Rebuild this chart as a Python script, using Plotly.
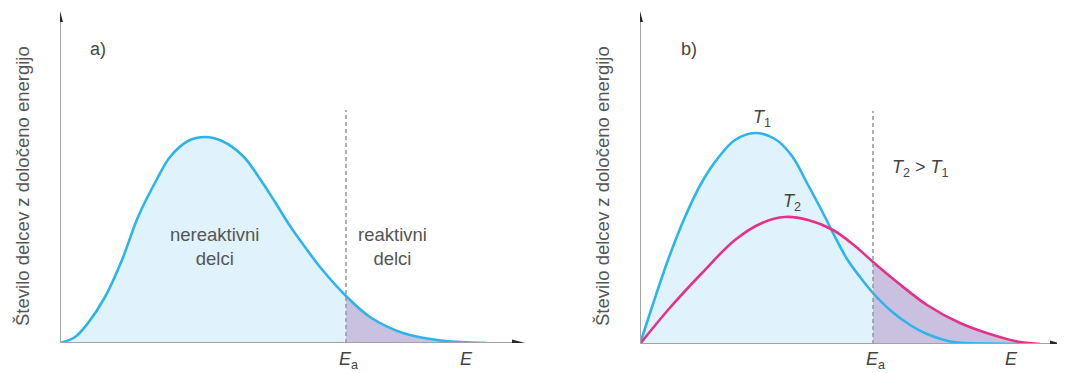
import plotly.graph_objects as go

W, H = 1065, 373
OFF = 8  # default page margin of the browser
WF, HF = W - OFF, H - OFF

# ---------------- data (arbitrary units) ----------------
# panel a
energy_a = [0, 0.375, 0.7, 1.125, 1.55, 1.95, 2.425, 2.75, 3.2, 3.625, 4.05, 4.575,
            5.0, 5.375, 5.75, 6.125, 6.5, 7.15, 7.75, 8.575, 9.425, 10.0, 10.675]
count_a = [0, 0.3, 1.0, 2.3, 4.15, 6.3, 8.2, 9.3, 10.1, 10.3, 10.1, 9.35,
           8.2, 7.05, 5.85, 4.8, 3.8, 2.35, 1.3, 0.5, 0.15, 0.05, 0]
ea_a = 7.15

# panel b
energy_t1 = [0, 0.3, 0.7, 1.125, 1.55, 1.95, 2.375, 2.875, 3.375, 3.8, 4.175, 4.575,
             4.825, 5.175, 5.5, 5.825, 6.25, 6.75, 7.175, 7.825, 8.75, 9.675]
count_t1 = [0, 1.85, 4.2, 6.35, 8.1, 9.3, 10.2, 10.55, 10.25, 9.4, 8.05, 6.55,
            5.55, 4.25, 3.35, 2.55, 1.7, 0.95, 0.5, 0.1, 0.02, 0]
energy_t2 = [0, 0.7, 1.55, 2.375, 3.05, 3.625, 4.2, 4.825, 5.375, 5.825, 6.425,
             7.175, 8.0, 8.825, 9.5, 10.0]
count_t2 = [0, 1.7, 3.55, 5.2, 6.05, 6.35, 6.2, 5.7, 4.9, 4.1, 3.1,
            1.95, 1.05, 0.45, 0.1, 0]
ea_b = 5.825

panel_labels = ["a)", "b)"]
y_title = "Število delcev z določeno energijo"
text_nonreactive = "nereaktivni<br>delci"
text_reactive = "reaktivni<br>delci"

# ---------------- styles ----------------
BLUE = "#2cb4ec"
PINK = "#e6318c"
FILL_BLUE = "#e0f3fc"
FILL_PURPLE = "#c9c1df"
AXIS = "#a3a3a3"
DASH = "#9c9c9c"
TXT = "#555555"
DARK = "#444444"
FONT = "Liberation Sans Narrow, Liberation Sans, Arial, sans-serif"

# pixel geometry (reference screen coordinates)
ax_a = dict(x0=60, x1=525, y0=343, top=11)
ax_b = dict(x0=640, x1=1063, y0=344, top=11)
XU, YU = 40.0, 20.0  # px per unit


def px(x):
    return (x - OFF) / WF


def py(y):
    return (HF - (y - OFF)) / HF


fig = go.Figure()


def split(xs, ys, cut, left=True):
    if left:
        pts = [(x, y) for x, y in zip(xs, ys) if x <= cut]
    else:
        pts = [(x, y) for x, y in zip(xs, ys) if x >= cut]
    return [p[0] for p in pts], [p[1] for p in pts]


def fill(xs, ys, color, xa, ya):
    fig.add_trace(go.Scatter(x=xs, y=ys, mode="lines", fill="tozeroy",
                             fillcolor=color, line=dict(width=0, shape="spline", smoothing=1),
                             xaxis=xa, yaxis=ya, hoverinfo="skip"))


def line(xs, ys, color, xa, ya):
    fig.add_trace(go.Scatter(x=xs, y=ys, mode="lines",
                             line=dict(color=color, width=2.6, shape="spline", smoothing=1),
                             xaxis=xa, yaxis=ya, hoverinfo="skip"))


# panel a
lx, ly = split(energy_a, count_a, ea_a, True)
fill(lx, ly, FILL_BLUE, "x", "y")
rx, ry = split(energy_a, count_a, ea_a, False)
fill(rx, ry, FILL_PURPLE, "x", "y")
line(energy_a, count_a, BLUE, "x", "y")

# panel b
for xs, ys in [(energy_t1, count_t1), (energy_t2, count_t2)]:
    lx, ly = split(xs, ys, ea_b, True)
    fill(lx, ly, FILL_BLUE, "x2", "y2")
rx, ry = split(energy_t2, count_t2, ea_b, False)
fill(rx, ry, FILL_PURPLE, "x2", "y2")
line(energy_t1, count_t1, BLUE, "x2", "y2")
line(energy_t2, count_t2, PINK, "x2", "y2")

shapes = []
annotations = []


def setup_axes(g, xname, yname, xanchor, yanchor):
    xr = (g["x1"] - g["x0"]) / XU
    yr = (g["y0"] - g["top"]) / YU
    fig.layout[xname] = dict(domain=[px(g["x0"]), px(g["x1"])], range=[0, xr],
                             visible=False, fixedrange=True, anchor=xanchor)
    fig.layout[yname] = dict(domain=[py(g["y0"]), py(g["top"])], range=[0, yr],
                             visible=False, fixedrange=True, anchor=yanchor)
    return xr, yr


xr_a, yr_a = setup_axes(ax_a, "xaxis", "yaxis", "y", "x")
xr_b, yr_b = setup_axes(ax_b, "xaxis2", "yaxis2", "y2", "x2")


def label(x, y, text, size=18, color=DARK, xanchor="center", yanchor="middle", angle=0):
    annotations.append(dict(xref="paper", yref="paper", x=px(x), y=py(y), text=text,
                            xanchor=xanchor, yanchor=yanchor, textangle=angle,
                            showarrow=False, font=dict(size=size, color=color, family=FONT)))


for xref, yref, xr, yr, ea, g in [("x", "y", xr_a, yr_a, ea_a, ax_a),
                                  ("x2", "y2", xr_b, yr_b, ea_b, ax_b)]:
    # axis lines
    shapes.append(dict(type="line", xref=xref, yref=yref, x0=0, x1=xr - 0.2, y0=0, y1=0,
                       line=dict(color=AXIS, width=2)))
    shapes.append(dict(type="line", xref=xref, yref=yref, x0=0, x1=0, y0=0, y1=yr - 0.4,
                       line=dict(color=AXIS, width=2)))
    # arrowheads
    shapes.append(dict(type="path", xref=xref, yref=yref, xsizemode="pixel", ysizemode="pixel",
                       xanchor=xr, yanchor=0, path="M 0,0 L -13,-3.5 L -13,3.5 Z",
                       fillcolor="#2a2a2a", line=dict(width=0)))
    shapes.append(dict(type="path", xref=xref, yref=yref, xsizemode="pixel", ysizemode="pixel",
                       xanchor=0, yanchor=yr, path="M 0,0 L -3,-11 L 3,-11 Z",
                       fillcolor="#2a2a2a", line=dict(width=0)))
    # dashed Ea line
    shapes.append(dict(type="line", xref=xref, yref=yref, x0=ea, x1=ea, y0=0, y1=11.65,
                       line=dict(color=DASH, width=1.6, dash="4px,3px")))
    # Ea label (left edge just left of the dashed line)
    annotations.append(dict(xref=xref, yref="paper", x=ea - 0.22, y=py(347),
                            xanchor="left", yanchor="top",
                            text="<i>E</i><sub>a</sub>", showarrow=False,
                            font=dict(size=18, color=DARK, family=FONT)))

# E labels
for x in [466, 1011]:
    label(x, 347, "<i>E</i>", yanchor="top")

# panel labels
for lab, x in zip(panel_labels, [98, 689]):
    label(x, 49, lab)

# y titles
for x in [22, 602]:
    label(x, 186, y_title, size=18.5, color=TXT, angle=-90)

# region labels
label(214, 246, text_nonreactive, size=18.5, color=TXT)
label(393, 246, text_reactive, size=18.5, color=TXT)

# temperature labels
label(762, 119, "<i>T</i><sub>1</sub>")
label(792, 202, "<i>T</i><sub>2</sub>")
label(920, 168, "<i>T</i><sub>2</sub> > <i>T</i><sub>1</sub>")

fig.update_layout(width=WF, height=HF, margin=dict(l=0, r=0, t=0, b=0),
                  paper_bgcolor="white", plot_bgcolor="white", showlegend=False,
                  shapes=shapes, annotations=annotations)

fig.write_html("out.html")
